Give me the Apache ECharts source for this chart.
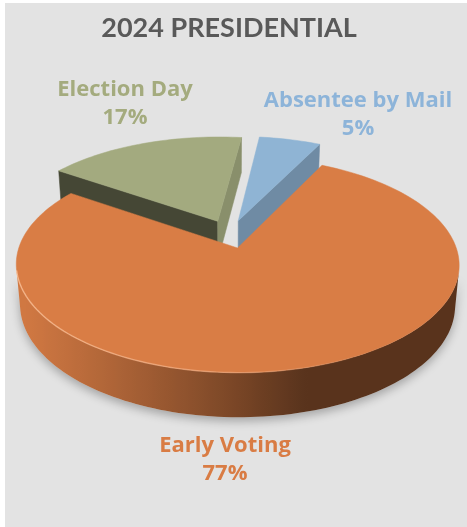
<!DOCTYPE html>
<html><head><meta charset="utf-8">
<script src="https://cdn.jsdelivr.net/npm/echarts@6/dist/echarts.min.js"></script>
<style>html,body{margin:0;padding:0;background:#fff}#c{width:467px;height:527px}</style>
</head><body><div id="c"></div>
<script>
// ---- data ----
const categories = ['Absentee by Mail', 'Early Voting', 'Election Day'];
const values = [5.4, 77.2, 17.4];
const sliceColors = ['#8fb4d4', '#d97d45', '#a3aa7f'];
const labelColors = ['#8db4d9', '#d97c44', '#a4ab7e'];
const titleText = '2024 PRESIDENTIAL';

// ---- layout / style ----
const layout = {
  firstSliceAngle: 7, explode: 0.14, depth: 0.212,
  F: 1236, D: 5.77, phi: 28.1, cx: 229.8, cy: 234,
  labelPos: [[358, 115], [225, 460], [125, 104]],
  labelFont: '"Open Sans"', titleFont: 'Lato', labelSize: 22, titleSize: 27
};

const sum = values.reduce((a, b) => a + b, 0);
const spans = values.map(v => v / sum * 360);
const starts = []; { let acc = layout.firstSliceAngle; spans.forEach(s => { starts.push(acc); acc += s; }); }

const rad = d => d * Math.PI / 180;
const sp = Math.sin(rad(layout.phi)), cp = Math.cos(rad(layout.phi));
const cam = [0, -layout.D * cp, layout.D * sp];
function proj(P) {
  const dep = layout.D + P[1] * cp - P[2] * sp;
  const v = P[1] * sp + P[2] * cp;
  return [layout.cx + layout.F * P[0] / dep, layout.cy - layout.F * v / dep];
}
function shade(hex, b) {
  const n = parseInt(hex.slice(1), 16);
  const r = Math.min(255, Math.round(((n >> 16) & 255) * b));
  const g = Math.min(255, Math.round(((n >> 8) & 255) * b));
  const bl = Math.min(255, Math.round((n & 255) * b));
  return 'rgb(' + r + ',' + g + ',' + bl + ')';
}
const norm = a => ((a % 360) + 360) % 360;
const sideB = t => 0.41 + 0.55 * Math.max(0, Math.cos(rad(t - 255)));
const wallB = t => Math.max(0.35, Math.min(0.95, 0.85 - 0.0036 * (norm(t) - 95)));
function centerOf(i) {
  const m = rad(starts[i] + spans[i] / 2);
  return [layout.explode * Math.sin(m), layout.explode * Math.cos(m)];
}
// painter order: farther slices first
const order = values.map((v, i) => i).sort((a, b) => centerOf(b)[1] - centerOf(a)[1]);
const rank = []; order.forEach((idx, r) => rank[idx] = r);

function renderItem(params, api) {
  const i = params.dataIndex;
  const H = layout.depth;
  const c = centerOf(i);
  const a0 = starts[i], a1 = a0 + spans[i];
  const base = sliceColors[i];
  const z0 = rank[i] * 10;
  const rim = (t, z) => [c[0] + Math.sin(rad(t)), c[1] + Math.cos(rad(t)), z];
  const n = Math.max(2, Math.ceil(spans[i] / 1.5));
  const ts = []; for (let k = 0; k <= n; k++) ts.push(a0 + (a1 - a0) * k / n);
  const children = [];
  // top face
  const top = [proj([c[0], c[1], 0])].concat(ts.map(t => proj(rim(t, 0))));
  children.push({ type: 'polygon', z2: z0 + 3, shape: { points: top }, style: { fill: base, stroke: base, lineWidth: 0.5 } });
  // outer side, visible runs
  const vis = ts.map(t => {
    const P = rim(t, -H / 2);
    return Math.sin(rad(t)) * (cam[0] - P[0]) + Math.cos(rad(t)) * (cam[1] - P[1]) > 0;
  });
  let run = [];
  const runs = [];
  ts.forEach((t, k) => { if (vis[k]) run.push(t); else { if (run.length > 1) runs.push(run); run = []; } });
  if (run.length > 1) runs.push(run);
  runs.forEach(r => {
    const tp = r.map(t => proj(rim(t, 0)));
    const bp = r.map(t => proj(rim(t, -H)));
    const pts = tp.concat(bp.slice().reverse());
    const xs = pts.map(p => p[0]);
    const mn = Math.min.apply(null, xs), mx = Math.max.apply(null, xs);
    const stops = r.map((t, k) => ({ offset: Math.max(0, Math.min(1, (bp[k][0] - mn) / (mx - mn || 1))), color: shade(base, sideB(t)) }))
      .sort((p, q) => p.offset - q.offset);
    const grad = { type: 'linear', x: 0, y: 0, x2: 1, y2: 0, colorStops: stops };
    // soft shadow below
    children.push({ type: 'polygon', z2: -5, shape: { points: pts }, style: { fill: '#d8d8d8', shadowBlur: 10, shadowOffsetY: 4, shadowColor: 'rgba(0,0,0,0.28)' } });
    children.push({ type: 'polygon', z2: z0 + 1, shape: { points: pts }, style: { fill: grad } });
    // rim highlight
    children.push({ type: 'polyline', z2: z0 + 4, shape: { points: tp }, style: { fill: null, lineWidth: 1.4,
      stroke: { type: 'linear', x: 0, y: 0, x2: 1, y2: 0, colorStops: [
        { offset: 0, color: 'rgba(255,200,160,0.7)' }, { offset: 0.45, color: 'rgba(255,190,150,0.45)' }, { offset: 0.8, color: 'rgba(255,190,150,0)' }] } } });
  });
  // radial walls
  [[a0, a0 - 90], [a1, a1 + 90]].forEach(([a, na]) => {
    const nx = Math.sin(rad(na)), ny = Math.cos(rad(na));
    const R = rim(a, -H / 2);
    const M = [(c[0] + R[0]) / 2, (c[1] + R[1]) / 2];
    if (nx * (cam[0] - M[0]) + ny * (cam[1] - M[1]) > 0) {
      const q = [proj([c[0], c[1], 0]), proj(rim(a, 0)), proj(rim(a, -H)), proj([c[0], c[1], -H])];
      const col = shade(base, wallB(na));
      children.push({ type: 'polygon', z2: z0 + 2, shape: { points: q }, style: { fill: col, stroke: col, lineWidth: 0.5 } });
    }
  });
  // label
  const pct = Math.round(api.value(0) / sum * 100) + '%';
  const lp = layout.labelPos[i];
  children.push({ type: 'text', z2: 100, style: { text: categories[i] + '\n' + pct, x: lp[0], y: lp[1],
    fill: labelColors[i], font: 'bold ' + layout.labelSize + 'px ' + layout.labelFont, align: 'center', verticalAlign: 'middle', lineHeight: 28 } });
  return { type: 'group', children: children };
}

const chart = echarts.init(document.getElementById('c'), null, { renderer: 'canvas' });
chart.setOption({
  backgroundColor: '#ffffff',
  animation: false,
  graphic: [
    { type: 'rect', z: -10, shape: { x: 5, y: 3, width: 470, height: 530 }, style: { fill: '#e3e3e3' } },
    { type: 'text', z: 10, style: { text: titleText, x: 229, y: 28, align: 'center', verticalAlign: 'middle',
      fill: '#595959', font: 'bold ' + layout.titleSize + 'px ' + layout.titleFont } }
  ],
  series: [{
    type: 'custom', coordinateSystem: 'none', renderItem: renderItem,
    data: values.map((v, i) => ({ name: categories[i], value: [v] }))
  }]
});
</script></body></html>
